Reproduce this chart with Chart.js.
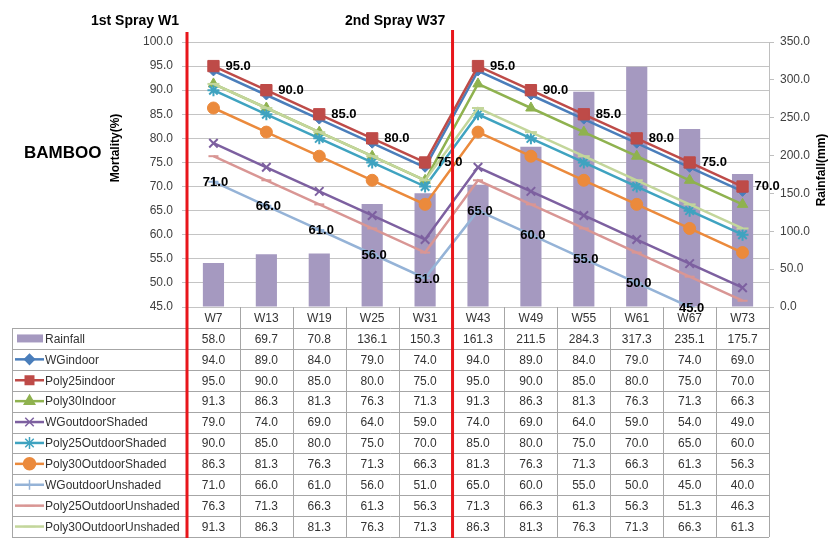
<!DOCTYPE html>
<html>
<head>
<meta charset="utf-8">
<script src="https://cdn.jsdelivr.net/npm/chart.js@4/dist/chart.umd.min.js"></script>
<style>
  html, body { margin: 0; padding: 0; background: #fff; }
  #wrap { width: 832px; height: 538px; position: relative; }
</style>
</head>
<body>
<div id="wrap"><canvas id="bambooChart" width="832" height="538"></canvas></div>
<script>
// categories (weeks)
const weeks = ['W7', 'W13', 'W19', 'W25', 'W31', 'W43', 'W49', 'W55', 'W61', 'W67', 'W73'];

// series values
const rainfall          = [58.0, 69.7, 70.8, 136.1, 150.3, 161.3, 211.5, 284.3, 317.3, 235.1, 175.7];
const wgIndoor          = [94.0, 89.0, 84.0, 79.0, 74.0, 94.0, 89.0, 84.0, 79.0, 74.0, 69.0];
const poly25Indoor      = [95.0, 90.0, 85.0, 80.0, 75.0, 95.0, 90.0, 85.0, 80.0, 75.0, 70.0];
const poly30Indoor      = [91.3, 86.3, 81.3, 76.3, 71.3, 91.3, 86.3, 81.3, 76.3, 71.3, 66.3];
const wgOutShaded       = [79.0, 74.0, 69.0, 64.0, 59.0, 74.0, 69.0, 64.0, 59.0, 54.0, 49.0];
const poly25OutShaded   = [90.0, 85.0, 80.0, 75.0, 70.0, 85.0, 80.0, 75.0, 70.0, 65.0, 60.0];
const poly30OutShaded   = [86.3, 81.3, 76.3, 71.3, 66.3, 81.3, 76.3, 71.3, 66.3, 61.3, 56.3];
const wgOutUnshaded     = [71.0, 66.0, 61.0, 56.0, 51.0, 65.0, 60.0, 55.0, 50.0, 45.0, 40.0];
const poly25OutUnshaded = [76.3, 71.3, 66.3, 61.3, 56.3, 71.3, 66.3, 61.3, 56.3, 51.3, 46.3];
const poly30OutUnshaded = [91.3, 86.3, 81.3, 76.3, 71.3, 86.3, 81.3, 76.3, 71.3, 66.3, 61.3];

// axis ticks
const mortalityTicks = [45, 50, 55, 60, 65, 70, 75, 80, 85, 90, 95, 100];
const rainfallTicks = [0, 50, 100, 150, 200, 250, 300, 350];

const BAR_COLOR = '#A599C0';
const FONT = '"Liberation Sans", Arial, sans-serif';

// line series: label, data, colour, marker
const lineSeries = [
    { label: 'WGindoor', data: wgIndoor, color: '#4A7EBB', style: 'rectRot', r: 5 },
    { label: 'Poly25indoor', data: poly25Indoor, color: '#BE4B48', style: 'rect', r: 8 },
    { label: 'Poly30Indoor', data: poly30Indoor, color: '#8FB24F', style: 'triangle', r: 6 },
    { label: 'WGoutdoorShaded', data: wgOutShaded, color: '#7D60A0', style: 'crossRot', r: 6 },
    { label: 'Poly25OutdoorShaded', data: poly25OutShaded, color: '#3FA3C0', style: 'star', r: 6 },
    { label: 'Poly30OutdoorShaded', data: poly30OutShaded, color: '#EB8A3C', style: 'circle', r: 6 },
    { label: 'WGoutdoorUnshaded', data: wgOutUnshaded, color: '#95B3D7', style: 'cross', r: 5 },
    { label: 'Poly25OutdoorUnshaded', data: poly25OutUnshaded, color: '#D99694', style: 'line', r: 5 },
    { label: 'Poly30OutdoorUnshaded', data: poly30OutUnshaded, color: '#C3D69B', style: 'line', r: 6 }
];

const datasets = [{
    type: 'bar',
    label: 'Rainfall',
    data: rainfall,
    yAxisID: 'y2',
    backgroundColor: BAR_COLOR,
    barPercentage: 0.4,
    categoryPercentage: 1,
    order: 50
}];

lineSeries.forEach((s, i) => {
    datasets.push({
        type: 'line',
        label: s.label,
        data: s.data,
        yAxisID: 'y',
        borderColor: s.color,
        backgroundColor: s.color,
        borderWidth: 2.5,
        tension: 0,
        pointStyle: s.style,
        pointRadius: s.r,
        pointBorderWidth: (s.style === 'crossRot' || s.style === 'star' || s.style === 'cross' || s.style === 'line') ? 2 : 1,
        pointBorderColor: s.color,
        pointBackgroundColor: s.color,
        order: 20 - i
    });
});

// value labels for Poly25indoor (right of point) and WGoutdoorUnshaded (on point)
const valueLabels = {
    id: 'valueLabels',
    afterDatasetsDraw(chart) {
        const ctx = chart.ctx;
        const area = chart.chartArea;
        ctx.save();
        ctx.font = 'bold 13px ' + FONT;
        ctx.fillStyle = '#000';
        ctx.textBaseline = 'middle';
        const m1 = chart.getDatasetMeta(2);
        m1.data.forEach((pt, i) => {
            ctx.textAlign = 'left';
            ctx.fillText(poly25Indoor[i].toFixed(1), pt.x + 12, pt.y);
        });
        const m2 = chart.getDatasetMeta(7);
        m2.data.forEach((pt, i) => {
            if (pt.y > area.bottom + 1) return;
            ctx.textAlign = 'center';
            ctx.fillText(wgOutUnshaded[i].toFixed(1), pt.x + 2, pt.y + 1);
        });
        ctx.restore();
    }
};

// data table under the plot, titles and spray markers
const tablePlugin = {
    id: 'tablePlugin',
    afterDraw(chart) {
        const ctx = chart.ctx;
        const x = chart.scales.x;
        const area = chart.chartArea;
        const colW = (area.right - area.left) / weeks.length;
        const tableLeft = 12;
        const rowTop = 328;
        const rowH = 20.9;
        const rows = [{ label: 'Rainfall', data: rainfall }].concat(lineSeries);
        const tableBottom = rowTop + rowH * rows.length;

        ctx.save();
        // grid of the table
        ctx.strokeStyle = '#A6A6A6';
        ctx.lineWidth = 1;
        ctx.beginPath();
        for (let k = 0; k <= weeks.length; k++) {
            const xx = Math.round(area.left + k * colW) + 0.5;
            ctx.moveTo(xx, area.bottom);
            ctx.lineTo(xx, tableBottom);
        }
        ctx.moveTo(tableLeft + 0.5, rowTop);
        ctx.lineTo(tableLeft + 0.5, tableBottom);
        for (let r = 0; r <= rows.length; r++) {
            const yy = Math.round(rowTop + r * rowH) + 0.5;
            ctx.moveTo(tableLeft, yy);
            ctx.lineTo(area.right, yy);
        }
        ctx.stroke();

        // header row
        ctx.font = '12px ' + FONT;
        ctx.fillStyle = '#333';
        ctx.textAlign = 'center';
        ctx.textBaseline = 'middle';
        weeks.forEach((w, i) => ctx.fillText(w, x.getPixelForValue(i), (area.bottom + rowTop) / 2 + 1));

        // data rows with legend keys
        rows.forEach((row, r) => {
            const cy = rowTop + rowH * (r + 0.5);
            row.data.forEach((v, i) => {
                ctx.textAlign = 'center';
                ctx.fillStyle = '#333';
                ctx.fillText(v.toFixed(1), x.getPixelForValue(i), cy + 1);
            });
            if (r === 0) {
                ctx.fillStyle = BAR_COLOR;
                ctx.fillRect(17, cy - 4, 26, 8);
            } else {
                ctx.strokeStyle = row.color;
                ctx.fillStyle = row.color;
                ctx.lineWidth = 2.5;
                ctx.beginPath();
                ctx.moveTo(15, cy);
                ctx.lineTo(44, cy);
                ctx.stroke();
                ctx.lineWidth = 1.5;
                Chart.helpers.drawPoint(ctx, {
                    pointStyle: row.style,
                    radius: Math.min(row.r, 6),
                    rotation: 0,
                    borderWidth: 1.5
                }, 29.5, cy);
            }
            ctx.textAlign = 'left';
            ctx.fillStyle = '#333';
            ctx.fillText(row.label, 45, cy + 1);
        });

        // red spray lines
        ctx.strokeStyle = '#E8161B';
        ctx.lineWidth = 3;
        ctx.beginPath();
        ctx.moveTo(area.left, 32);
        ctx.lineTo(area.left, 538);
        const mid = (x.getPixelForValue(4) + x.getPixelForValue(5)) / 2 + 1;
        ctx.moveTo(mid, 30);
        ctx.lineTo(mid, 538);
        ctx.stroke();

        // titles
        ctx.fillStyle = '#000';
        ctx.font = 'bold 14px ' + FONT;
        ctx.textAlign = 'left';
        ctx.fillText('1st Spray W1', 91, 21);
        ctx.fillText('2nd Spray W37', 345, 21);
        ctx.font = 'bold 17px ' + FONT;
        ctx.fillText('BAMBOO', 24, 153);

        ctx.font = 'bold 12px ' + FONT;
        ctx.textAlign = 'center';
        ctx.save();
        ctx.translate(116, 148);
        ctx.rotate(-Math.PI / 2);
        ctx.fillText('Mortality(%)', 0, 0);
        ctx.restore();
        ctx.save();
        ctx.translate(822, 170);
        ctx.rotate(-Math.PI / 2);
        ctx.fillText('Rainfall(mm)', 0, 0);
        ctx.restore();

        ctx.restore();
    }
};

new Chart(document.getElementById('bambooChart').getContext('2d'), {
    type: 'bar',
    data: { labels: weeks, datasets: datasets },
    plugins: [valueLabels, tablePlugin],
    options: {
        responsive: false,
        animation: false,
        layout: { padding: { left: 0, right: 0, top: 42, bottom: 231 } },
        plugins: {
            legend: { display: false },
            tooltip: { enabled: false }
        },
        scales: {
            x: {
                display: false,
                offset: true
            },
            y: {
                position: 'left',
                min: 45,
                max: 100,
                afterFit: (s) => { s.width = 187; },
                afterBuildTicks: (s) => { s.ticks = mortalityTicks.map(v => ({ value: v })); },
                grid: { color: '#C4C4C4', tickLength: 5 },
                border: { display: false },
                ticks: {
                    padding: 9,
                    color: '#404040',
                    font: { family: FONT, size: 12 },
                    callback: (v) => Number(v).toFixed(1)
                }
            },
            y2: {
                position: 'right',
                min: 0,
                max: 350,
                afterFit: (s) => { s.width = 63; },
                afterBuildTicks: (s) => { s.ticks = rainfallTicks.map(v => ({ value: v })); },
                grid: { drawOnChartArea: false, color: '#BFBFBF', tickLength: 5 },
                border: { display: true, color: '#BFBFBF' },
                ticks: {
                    padding: 6,
                    color: '#404040',
                    font: { family: FONT, size: 12 },
                    callback: (v) => Number(v).toFixed(1)
                }
            }
        }
    }
});
</script>
</body>
</html>
